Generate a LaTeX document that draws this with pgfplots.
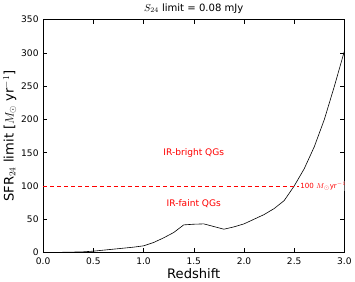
\documentclass[border=0pt]{standalone}
\usepackage{pgfplots}
\pgfplotsset{compat=1.18}
\usepackage{fontspec}
\setmainfont{DejaVu Sans}
\setsansfont{DejaVu Sans}
\begin{document}
\begin{tikzpicture}
\begin{axis}[
  scale only axis,
  width=299pt, height=231pt,
  xmin=0, xmax=3, ymin=0, ymax=350,
  xtick={0,0.5,1,1.5,2,2.5,3},
  xticklabels={0.0,0.5,1.0,1.5,2.0,2.5,3.0},
  ytick={0,50,100,150,200,250,300,350},
  tick align=inside,
  minor tick num=0,
  major tick length=4pt,
  tick style={black, line width=0.5pt},
  xtick pos=both, ytick pos=both,
  tick label style={font=\fontsize{9}{10}\selectfont},
  xticklabel style={yshift=-1.5pt},
  yticklabel style={xshift=-1pt},
  /pgf/number format/assume math mode=true,
  xlabel={Redshift},
  ylabel={SFR$_{24}$ limit [$M_\odot$ yr$^{-1}$]},
  xlabel style={font=\fontsize{13}{14}\selectfont, yshift=3pt},
  ylabel style={font=\fontsize{13}{14}\selectfont, yshift=-2pt},
  title={$S_{24}$ limit = 0.08 mJy},
  title style={font=\fontsize{10}{11}\selectfont, yshift=-3pt},
  axis line style={black, line width=0.6pt},
  clip=true,
]
\addplot[black, line width=0.6pt] coordinates {
 (0.0,0) (0.1,0) (0.2,0.3) (0.3,0.6) (0.4,1.0) (0.5,2) (0.6,3.5) (0.7,5) (0.8,6.5) (0.9,8) (1.0,10) (1.1,15) (1.2,22) (1.3,30) (1.4,41.5) (1.5,42.5) (1.6,43) (1.7,39) (1.8,35) (1.9,38.5) (2.0,43) (2.1,50) (2.2,57) (2.3,66) (2.4,78) (2.5,100) (2.6,126) (2.7,159) (2.8,200) (2.9,250) (3.0,303)
};
\addplot[red, line width=0.6pt, dash pattern=on 4pt off 3pt] coordinates {(0,100) (3,100)};
\node[red, font=\fontsize{9}{10}\selectfont] at (axis cs:1.5,150) {IR-bright QGs};
\node[red, font=\fontsize{9}{10}\selectfont] at (axis cs:1.5,73) {IR-faint QGs};
\node[red, font=\fontsize{7}{8}\selectfont, anchor=west, fill=white, inner sep=1pt] at (axis cs:2.55,100) {100 $M_\odot$yr$^{-1}$};
\end{axis}
\end{tikzpicture}
\end{document}
